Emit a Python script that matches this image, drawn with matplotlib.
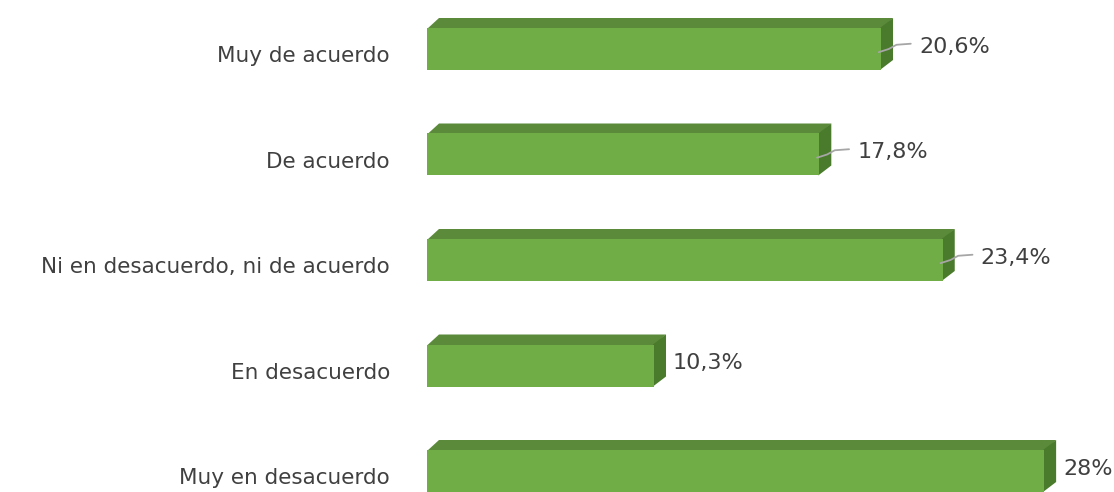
import matplotlib
matplotlib.use("Agg")
import matplotlib.pyplot as plt
from matplotlib.patches import Polygon

categories = ["Muy de acuerdo", "De acuerdo", "Ni en desacuerdo, ni de acuerdo",
              "En desacuerdo", "Muy en desacuerdo"]
values = [20.6, 17.8, 23.4, 10.3, 28.0]
value_labels = ["20,6%", "17,8%", "23,4%", "10,3%", "28%"]
has_leader = [True, True, True, False, False]

W, H = 1114, 492
X0 = 427            # pixel of x=0
PX_PER_UNIT = 22.04  # pixels per percentage point
ROW_PX = 105.5
FRONT = "#70AD47"
TOP = "#5B8B3A"
SIDE = "#4A7A2C"
TEXT = "#404040"

fig = plt.figure(figsize=(W / 100, H / 100), dpi=100)
ax = fig.add_axes([X0 / W, 0, 1 - X0 / W, 1])
ax.set_xlim(0, (W - X0) / PX_PER_UNIT)
ax.set_ylim(-21 / ROW_PX, 4 + 49 / ROW_PX)
ax.axis("off")

dx = 12 / PX_PER_UNIT
dy = 10 / ROW_PX
h = 42 / ROW_PX
eps = 1 / ROW_PX
ys = [4 - i for i in range(len(categories))]

for y, v, cat, lab, lead in zip(ys, values, categories, value_labels, has_leader):
    top, bot = y + h / 2, y - h / 2
    ax.add_patch(Polygon([(0, top - eps), (v, top - eps), (v + dx, top + dy), (dx, top + dy)],
                         closed=True, color=TOP, zorder=2, lw=0))
    ax.add_patch(Polygon([(v - 0.05, bot), (v - 0.05, top), (v + dx, top + dy), (v + dx, bot + dy)],
                         closed=True, color=SIDE, zorder=2, lw=0))
    if lead:
        ax.plot([v - 0.1, v + 0.35, v + 0.7, v + 1.35],
                [y - 0.03, y + 0.0, y + 0.04, y + 0.05],
                color="#A6A6A6", lw=1.3, zorder=4, solid_capstyle="round")
        lx = v + 38 / PX_PER_UNIT
    else:
        lx = v + 19 / PX_PER_UNIT
    ax.text(lx, y + 0.02, lab, ha="left", va="center", fontsize=16,
            family="DejaVu Sans", color=TEXT)
    ax.text(-37 / PX_PER_UNIT, y - 0.07, cat, ha="right", va="center", fontsize=15.5,
            family="DejaVu Sans", color=TEXT, clip_on=False)
ax.barh(ys, values, height=h, color=FRONT, zorder=3, lw=0)

fig.savefig("out.png", dpi=100)
